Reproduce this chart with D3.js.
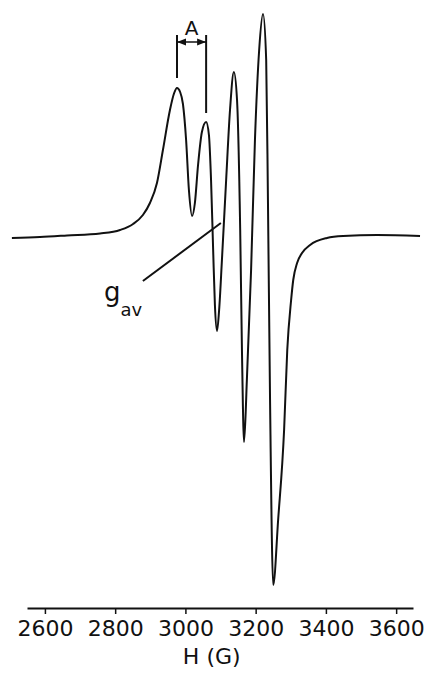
<!DOCTYPE html>
<html>
<head>
<meta charset="utf-8">
<script src="https://cdn.jsdelivr.net/npm/d3@7"></script>
<style>
  html, body { margin: 0; padding: 0; background: #fff; }
  svg { display: block; }
  text { font-family: "DejaVu Sans", sans-serif; fill: #111; }
</style>
</head>
<body>
<svg id="chart" width="430" height="673"></svg>
<script>
// Magnetic field (G) and first-derivative EPR signal (arbitrary units)
const fieldG = [2506, 2586, 2663, 2757, 2814, 2851, 2879, 2899, 2919, 2936, 2956, 2968, 2976, 2985, 2993, 3002, 3010, 3019,
  3027, 3036, 3047, 3059, 3067, 3073, 3079, 3084, 3090, 3096, 3104, 3116, 3127, 3138, 3147, 3156, 3161, 3167,
  3175, 3187, 3198, 3210, 3221, 3230, 3235, 3241, 3250, 3264, 3281, 3290, 3301, 3307, 3318, 3332, 3355, 3403, 3449, 3546, 3668];
const signal = [-1, 0, 1.5, 3.5, 7, 13, 22, 34, 54, 87, 127, 144, 149, 145, 133, 97, 47, 21,
  34, 72, 105, 115, 102, 57, -13, -68, -94, -73, -23, 57, 127, 165, 137, 7, -113, -205,
  -143, -33, 97, 187, 223, 177, 37, -163, -348, -283, -193, -113, -63, -43, -26, -16, -8, -1, 1, 2, 1];
const tickValues = [2600, 2800, 3000, 3200, 3400, 3600];
const tickLabels = ["2600", "2800", "3000", "3200", "3400", "3600"];
const axisTitle = "H (G)";
// Hyperfine splitting marker "A" between first two lines
const splitField = [2976, 3059];
const splitTop = 202;
const splitBottom = [159, 124];
const splitArrow = 195;
const splitLabel = "A";
// g_av leader line
const gavLine = [[2879, -44], [3101, 14]];
const gavMain = "g";
const gavSub = "av";

const svg = d3.select("#chart");
const x = d3.scaleLinear().domain([2549, 3648]).range([27, 413]);
const y = d3.scaleLinear().domain([-350, 225]).range([587, 12]);
const ink = "#111";

const data = fieldG.map((h, i) => ({ h, v: signal[i] }));

// spectrum
svg.append("path")
  .datum(data)
  .attr("fill", "none")
  .attr("stroke", ink)
  .attr("stroke-width", 2)
  .attr("stroke-linejoin", "round")
  .attr("d", d3.line().x(d => x(d.h)).y(d => y(d.v)).curve(d3.curveMonotoneX));

// axis
const axis = d3.axisBottom(x)
  .tickValues(tickValues)
  .tickFormat((d, i) => tickLabels[i])
  .tickSizeInner(6)
  .tickSizeOuter(0)
  .tickPadding(6);
const gAxis = svg.append("g").attr("transform", "translate(0,608)").call(axis);
gAxis.select(".domain").attr("stroke", ink).attr("stroke-width", 1.8);
gAxis.selectAll(".tick line").attr("stroke", ink).attr("stroke-width", 1.5);
gAxis.selectAll(".tick text")
  .attr("fill", ink)
  .style("font-family", "DejaVu Sans, sans-serif")
  .style("font-size", "22px");

svg.append("text")
  .attr("x", x(3075))
  .attr("y", 664)
  .attr("text-anchor", "middle")
  .style("font-size", "22px")
  .text(axisTitle);

// A marker
splitField.forEach((h, i) => {
  svg.append("line")
    .attr("x1", x(h)).attr("x2", x(h))
    .attr("y1", y(splitTop)).attr("y2", y(splitBottom[i]))
    .attr("stroke", ink).attr("stroke-width", 2);
});
const defs = svg.append("defs");
defs.append("marker")
  .attr("id", "arr")
  .attr("viewBox", "0 0 10 10")
  .attr("refX", 10).attr("refY", 5)
  .attr("markerWidth", 6).attr("markerHeight", 6)
  .attr("orient", "auto-start-reverse")
  .append("path").attr("d", "M0,1 L10,5 L0,9 Z").attr("fill", ink);
svg.append("line")
  .attr("x1", x(splitField[0])).attr("x2", x(splitField[1]))
  .attr("y1", y(splitArrow)).attr("y2", y(splitArrow))
  .attr("stroke", ink).attr("stroke-width", 1.5)
  .attr("marker-start", "url(#arr)")
  .attr("marker-end", "url(#arr)");
svg.append("text")
  .attr("x", x((splitField[0] + splitField[1]) / 2))
  .attr("y", 35)
  .attr("text-anchor", "middle")
  .style("font-size", "20px")
  .text(splitLabel);

// g_av leader and label
svg.append("line")
  .attr("x1", x(gavLine[0][0])).attr("y1", y(gavLine[0][1]))
  .attr("x2", x(gavLine[1][0])).attr("y2", y(gavLine[1][1]))
  .attr("stroke", ink).attr("stroke-width", 2);
const gl = svg.append("text").attr("x", 104).attr("y", 301).style("font-size", "26px");
gl.append("tspan").text(gavMain);
gl.append("tspan").attr("dy", 15).style("font-size", "18px").text(gavSub);
</script>
</body>
</html>
